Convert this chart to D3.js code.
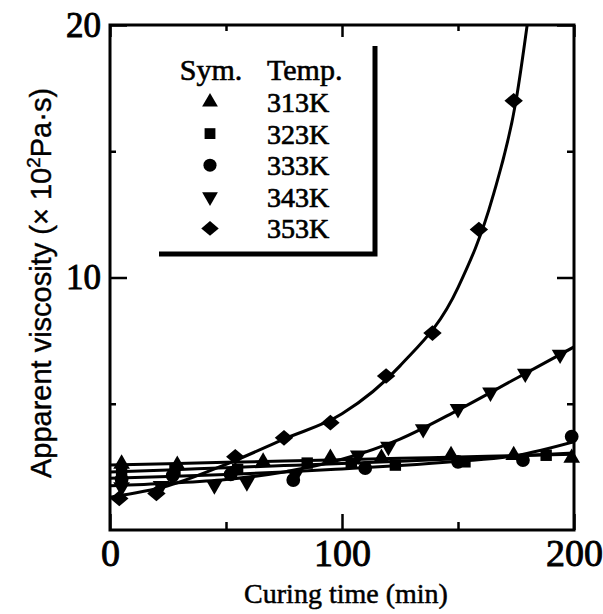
<!DOCTYPE html>
<html>
<head>
<meta charset="utf-8">
<script src="https://cdn.jsdelivr.net/npm/d3@7"></script>
<style>
  body { margin: 0; background: #fff; }
  svg { display: block; }
</style>
</head>
<body>
<div id="chart"></div>
<script>
// measured points (curing time in min, viscosity in 10^2 Pa.s)
var temps = ["313K", "323K", "333K", "343K", "353K"];
var t313 = [5, 29, 66, 95, 117, 147, 174, 199];
var v313 = [2.62, 2.57, 2.7, 2.85, 2.85, 2.96, 2.96, 2.85];
var t323 = [5, 28, 55, 85, 104, 123, 153, 188];
var v323 = [2.3, 2.35, 2.4, 2.65, 2.65, 2.57, 2.7, 2.96];
var t333 = [5, 27, 52, 79, 110, 150, 178, 199];
var v333 = [2.0, 2.15, 2.2, 1.98, 2.45, 2.7, 2.77, 3.7];
var t343 = [5, 22, 45, 59, 80, 107, 120, 135, 150, 164, 179, 194];
var v343 = [1.7, 1.75, 1.78, 1.9, 2.2, 2.96, 3.3, 4.0, 4.8, 5.45, 6.2, 6.95];
var t353 = [4, 20, 54, 75, 95, 119, 139, 159, 174];
var v353 = [1.25, 1.45, 2.9, 3.65, 4.25, 6.1, 7.8, 11.9, 17.0];

// fitted curves
var fitT = [0, 25, 50, 75, 100, 125, 150, 175, 200];
var f313 = [2.57, 2.62, 2.68, 2.73, 2.78, 2.84, 2.89, 2.95, 3.0];
var f323 = [2.3, 2.38, 2.47, 2.55, 2.63, 2.72, 2.82, 2.93, 3.05];
var f333 = [2.05, 2.12, 2.2, 2.3, 2.42, 2.55, 2.72, 2.95, 3.5];
var f343 = [1.75, 1.85, 2.0, 2.3, 2.8, 3.6, 4.75, 6.0, 7.25];
var fitT353 = [0, 25, 50, 75, 100, 125, 150, 165, 175, 182];
var f353 = [1.3, 1.75, 2.6, 3.6, 4.6, 6.5, 9.6, 13.2, 17.0, 21.5];

var xMajor = [0, 100, 200], xMinor = [50, 150];
var yMajor = [10, 20], yMinor = [5, 15];

var W = 603, H = 614;
var x = d3.scaleLinear().domain([0, 200]).range([110, 574]);
var y = d3.scaleLinear().domain([0, 20]).range([530, 25]);

var svg = d3.select('#chart').append('svg')
  .attr('width', W)
  .attr('height', H);

svg.append('clipPath').attr('id', 'plot')
  .append('rect')
  .attr('x', x(0)).attr('y', y(20))
  .attr('width', x(200) - x(0)).attr('height', y(0) - y(20));

var serif = '"Liberation Serif", serif';

// ticks, all pointing into the plot
function ticks(axis, vals, len, pos, size) {
  var g = svg.append('g')
    .attr('transform', pos)
    .call(axis.tickValues(vals).tickSizeInner(-len).tickSizeOuter(0).tickPadding(9)
      .tickFormat(size ? d3.format('d') : function(){ return ''; }));
  g.select('.domain').remove();
  g.selectAll('line').attr('stroke', '#000').attr('stroke-width', 2.5);
  g.selectAll('text')
    .attr('font-family', serif)
    .attr('font-size', size || 10)
    .attr('fill', '#000')
    .attr('stroke', '#000').attr('stroke-width', 0.9);
  return g;
}
ticks(d3.axisBottom(x), xMajor, 16, 'translate(0,' + y(0) + ')', 38);
ticks(d3.axisBottom(x), xMinor, 8, 'translate(0,' + y(0) + ')');
ticks(d3.axisTop(x), xMajor, 12, 'translate(0,' + y(20) + ')');
ticks(d3.axisTop(x), xMinor, 6, 'translate(0,' + y(20) + ')');
ticks(d3.axisLeft(y), yMajor, 17, 'translate(' + x(0) + ',0)', 35);
ticks(d3.axisLeft(y), yMinor, 6, 'translate(' + x(0) + ',0)');
ticks(d3.axisRight(y), yMajor, 17, 'translate(' + x(200) + ',0)');
ticks(d3.axisRight(y), yMinor, 7, 'translate(' + x(200) + ',0)');

svg.append('rect')
  .attr('x', x(0)).attr('y', y(20))
  .attr('width', x(200) - x(0)).attr('height', y(0) - y(20))
  .attr('fill', 'none').attr('stroke', '#000').attr('stroke-width', 3);

// fitted lines
var fits = [
  {t: fitT, v: f313}, {t: fitT, v: f323}, {t: fitT, v: f333},
  {t: fitT, v: f343}, {t: fitT353, v: f353}
];
var line = d3.line()
  .x(function(d){ return x(d[0]); })
  .y(function(d){ return y(d[1]); })
  .curve(d3.curveMonotoneX);

svg.append('g').attr('clip-path', 'url(#plot)')
  .selectAll('path')
  .data(fits)
  .enter()
  .append('path')
    .attr('d', function(f){ return line(d3.zip(f.t, f.v)); })
    .attr('fill', 'none')
    .attr('stroke', '#000')
    .attr('stroke-width', 3);

// symbols
var shapes = [
  {type: d3.symbolTriangle, size: 120, rot: 0, sy: 1},
  {type: d3.symbolSquare, size: 130, rot: 0, sy: 1},
  {type: d3.symbolCircle, size: 150, rot: 0, sy: 1},
  {type: d3.symbolTriangle, size: 120, rot: 180, sy: 1},
  {type: d3.symbolSquare, size: 170, rot: 45, sy: 0.85}
];
var pts = [
  {t: t313, v: v313}, {t: t323, v: v323}, {t: t333, v: v333},
  {t: t343, v: v343}, {t: t353, v: v353}
];

function place(sh, cx, cy) {
  return 'translate(' + cx + ',' + cy + ') scale(1,' + sh.sy + ') rotate(' + sh.rot + ')';
}

pts.forEach(function(s, i){
  var sh = shapes[i];
  svg.append('g')
    .selectAll('path')
    .data(d3.zip(s.t, s.v))
    .enter()
    .append('path')
      .attr('d', d3.symbol().type(sh.type).size(sh.size))
      .attr('transform', function(d){ return place(sh, x(d[0]), y(d[1])); })
      .attr('fill', '#000');
});

// legend
var leg = svg.append('g');
leg.append('path')
  .attr('d', 'M159,254H375V46')
  .attr('fill', 'none').attr('stroke', '#000').attr('stroke-width', 5);

leg.append('text')
  .attr('x', 211).attr('y', 80)
  .attr('text-anchor', 'middle')
  .attr('font-family', serif).attr('font-size', 30)
  .attr('stroke', '#000').attr('stroke-width', 0.6)
  .text('Sym.');
leg.append('text')
  .attr('x', 267).attr('y', 80)
  .attr('font-family', serif).attr('font-size', 30)
  .attr('stroke', '#000').attr('stroke-width', 0.6)
  .text('Temp.');

var rows = leg.selectAll('g.row')
  .data(temps)
  .enter()
  .append('g')
    .attr('class', 'row')
    .attr('transform', function(d, i){ return 'translate(0,' + (102 + i * 31.6) + ')'; });

rows.append('path')
  .attr('d', function(d, i){ return d3.symbol().type(shapes[i].type).size(shapes[i].size * 0.9)(); })
  .attr('transform', function(d, i){ return place(shapes[i], 210, 0); })
  .attr('fill', '#000');

rows.append('text')
  .attr('x', 267).attr('y', 10)
  .attr('font-family', serif).attr('font-size', 28)
  .attr('stroke', '#000').attr('stroke-width', 0.7)
  .text(function(d){ return d; });

// axis titles
svg.append('text')
  .attr('x', 346).attr('y', 603)
  .attr('text-anchor', 'middle')
  .attr('font-family', serif).attr('font-size', 28)
  .attr('stroke', '#000').attr('stroke-width', 0.5)
  .text('Curing time (min)');

var yl = svg.append('text')
  .attr('transform', 'translate(51,283) rotate(-90)')
  .attr('text-anchor', 'middle')
  .attr('font-family', '"Liberation Sans", Arial, sans-serif')
  .attr('font-size', 29)
  .attr('stroke', '#000').attr('stroke-width', 0.4);
yl.append('tspan').text('Apparent viscosity  (× 10');
yl.append('tspan').attr('dy', -11).attr('font-size', 19).text('2');
yl.append('tspan').attr('dy', 11).text('Pa·s)');
</script>
</body>
</html>
